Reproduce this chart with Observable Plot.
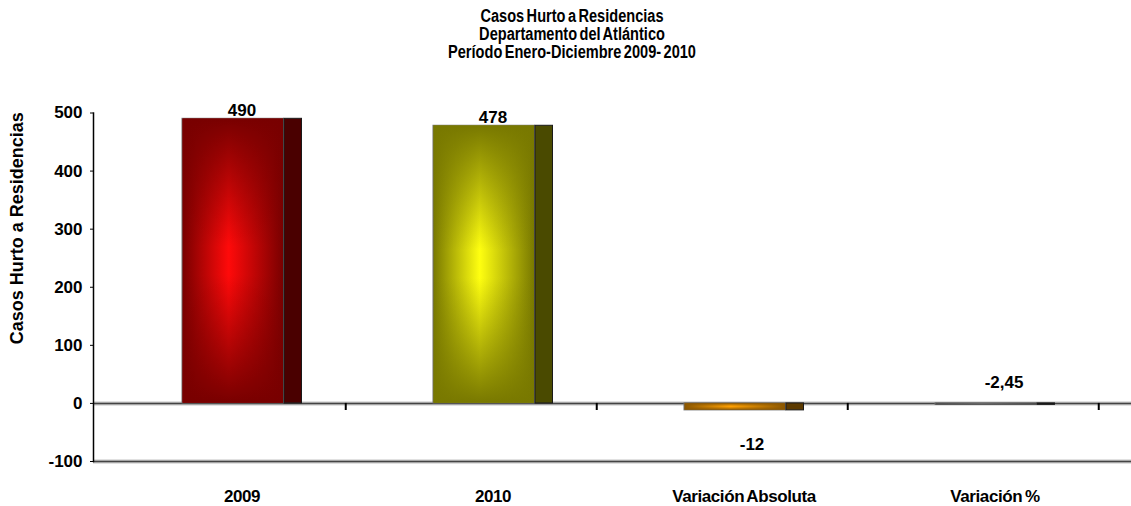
<!DOCTYPE html>
<html>
<head>
<meta charset="utf-8">
<script src="https://cdn.jsdelivr.net/npm/d3@7"></script>
<script src="https://cdn.jsdelivr.net/npm/@observablehq/plot@0.6"></script>
<style>
  html, body { margin: 0; padding: 0; background: #fff; }
  #wrap { position: relative; width: 1131px; height: 506px; overflow: hidden;
          font-family: "Liberation Sans", Arial, sans-serif; }
  #title { position: absolute; left: 0; top: 0; width: 1144px; height: 81px;
           padding-top: 7px; box-sizing: border-box; text-align: center;
           font-weight: bold; font-size: 18px; line-height: 18px; color: #000;
           word-spacing: -2px; transform: scaleX(0.81); transform-origin: 572px 0; }
  #chart { position: absolute; left: 0; top: 81px; }
</style>
</head>
<body>
<div id="wrap">
  <div id="title"></div>
  <div id="chart"></div>
</div>
<script>
// ---- data ----
const titleLines = [
  "Casos Hurto a Residencias",
  "Departamento del Atlántico",
  "Período Enero-Diciembre 2009- 2010"
];
const categories = ["2009", "2010", "Variación Absoluta", "Variación %"];
const values = [490, 478, -12, -2.45];
const valueLabels = ["490", "478", "-12", "-2,45"];
const yTicks = [-100, 0, 100, 200, 300, 400, 500];
const yTitle = "Casos Hurto a Residencias";
const centerColors = ["#ff0a0a", "#ffff10", "#ffa000", "#6a6a6a"];
const edgeColors   = ["#780000", "#787800", "#8a5600", "#262626"];
const sideColors   = ["#4a0000", "#4a4a00", "#5c3a00", "#141414"];

// ---- title ----
const titleDiv = document.getElementById("title");
titleLines.forEach(t => {
  const d = document.createElement("div");
  d.textContent = t;
  titleDiv.appendChild(d);
});

// ---- chart ----
const data = categories.map((c, i) => ({i, cat: c, value: values[i], label: valueLabels[i], side: sideColors[i]}));
const W = 1131, H = 425;
const left = 93, right = 1099;
const bw = (right - left) / categories.length;

const chart = Plot.plot({
  width: W, height: H,
  marginLeft: left, marginRight: 0, marginTop: 31.5, marginBottom: 45,
  style: {fontFamily: '"Liberation Sans", Arial, sans-serif', fontWeight: "bold", color: "#000", background: "#fff", overflow: "visible"},
  x: {type: "band", domain: categories, range: [left, right], padding: 0},
  y: {domain: [-100, 500]},
  color: {type: "identity"},
  marks: [
    Plot.ruleY([-100], {stroke: "#c4c4c4", strokeWidth: 4}),
    Plot.ruleY([-100], {stroke: "#444", strokeWidth: 1.5}),
    Plot.ruleY([0], {stroke: "#c4c4c4", strokeWidth: 4}),
    Plot.ruleY([0], {stroke: "#444", strokeWidth: 1.5}),
    Plot.ruleX(categories, {x: d => d, y1: 0, y2: -100, dx: bw / 2, insetBottom: 51, stroke: "#000", strokeWidth: 2}),
    Plot.frame({anchor: "left", stroke: "#000", strokeWidth: 1.5}),
    Plot.barY(data, {x: "cat", y: "value", fill: d => `url(#gh${d.i})`, insetLeft: 88, insetRight: bw - 190, stroke: "#707070", strokeWidth: 1}),
    Plot.barY(data, {x: "cat", y: "value", fill: d => `url(#gv${d.i})`, insetLeft: 88.5, insetRight: bw - 189.5}),
    Plot.barY(data, {x: "cat", y: "value", fill: "side", insetLeft: 190, insetRight: bw - 208, stroke: "#1a1a1a", strokeWidth: 1}),
    Plot.axisY({ticks: yTicks, tickSize: 3, tickPadding: 8, fontSize: 17, label: null, tickFormat: d => String(d)}),
    Plot.axisX({tickSize: 0, tickPadding: 28, fontSize: 17, dx: 22, label: null}),
    Plot.text(data, {filter: d => d.value > 0, x: "cat", y: "value", text: "label", dx: 22, dy: -3, lineAnchor: "bottom", fontSize: 17}),
    Plot.text(data, {filter: d => d.i === 2, x: "cat", y: "value", text: "label", dx: 30, dy: 34, lineAnchor: "middle", fontSize: 17}),
    Plot.text(data, {filter: d => d.i === 3, x: "cat", y: "value", text: "label", dx: 31, dy: -22, lineAnchor: "middle", fontSize: 17}),
    Plot.text([yTitle], {text: d => d, frameAnchor: "left", textAnchor: "middle", rotate: -90, dx: -76, dy: -59, fontSize: 18})
  ]
});

// tighter spacing on the category labels, as in the reference
d3.select(chart).selectAll('g[aria-label="x-axis tick label"] text')
  .style("letter-spacing", "-0.4px").style("word-spacing", "-1.5px");

// gradients for the cushion-shaded bar faces
const defs = d3.select(chart).insert("defs", ":first-child");
categories.forEach((c, i) => {
  const gh = defs.append("linearGradient").attr("id", "gh" + i)
    .attr("x1", "0").attr("x2", "1").attr("y1", "0").attr("y2", "0");
  gh.append("stop").attr("offset", "0%").attr("stop-color", edgeColors[i]);
  gh.append("stop").attr("offset", "46%").attr("stop-color", centerColors[i]);
  gh.append("stop").attr("offset", "100%").attr("stop-color", edgeColors[i]);
  const gv = defs.append("linearGradient").attr("id", "gv" + i)
    .attr("x1", "0").attr("x2", "0").attr("y1", "0").attr("y2", "1");
  gv.append("stop").attr("offset", "0%").attr("stop-color", edgeColors[i]).attr("stop-opacity", 1);
  gv.append("stop").attr("offset", "45%").attr("stop-color", edgeColors[i]).attr("stop-opacity", 0);
  gv.append("stop").attr("offset", "55%").attr("stop-color", edgeColors[i]).attr("stop-opacity", 0);
  gv.append("stop").attr("offset", "100%").attr("stop-color", edgeColors[i]).attr("stop-opacity", 1);
});

document.getElementById("chart").appendChild(chart);
</script>
</body>
</html>
